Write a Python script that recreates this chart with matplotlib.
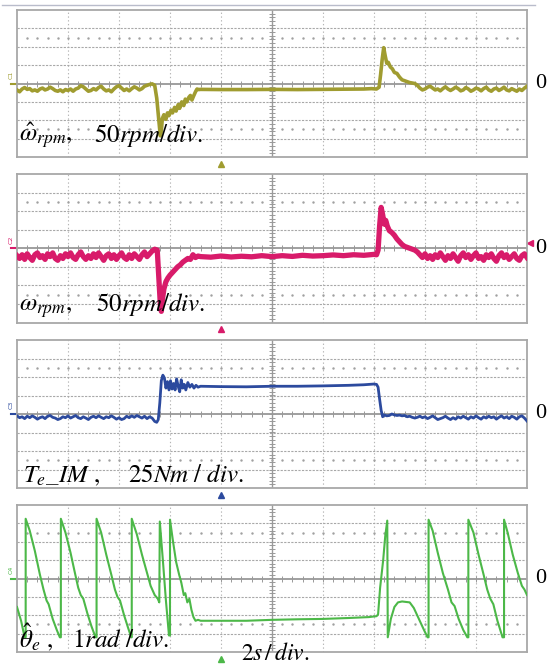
import numpy as np
import matplotlib
matplotlib.use("Agg")
import matplotlib.pyplot as plt
from matplotlib.lines import Line2D

plt.rcParams['mathtext.fontset'] = 'stix'

# ---------------- data (time in divisions, amplitude in divisions) ----------------
STEP = 0.05

# Panel 1: estimated speed (olive)
w_hat_pre = [-0.35, -0.45, -0.30, -0.22, -0.32, -0.28, -0.40, -0.35, -0.42, -0.30,
             -0.25, -0.35, -0.30, -0.20, -0.28, -0.38, -0.42, -0.35, -0.45, -0.33,
             -0.38, -0.30, -0.42, -0.30, -0.25, -0.12, -0.18, -0.30, -0.42, -0.38,
             -0.28, -0.35, -0.22, -0.15, -0.30, -0.40, -0.35, -0.45, -0.30, -0.18,
             -0.12, -0.25, -0.38, -0.30, -0.40, -0.28, -0.18, -0.25, -0.35, -0.28,
             -0.15, -0.10, -0.05, -0.02, -0.10]
w_hat_ev_t = [2.74, 2.78, 2.81, 2.83, 2.85, 2.88, 2.92, 2.95, 2.98, 3.02, 3.05, 3.09,
              3.12, 3.16, 3.19, 3.23, 3.27, 3.30, 3.33, 3.37, 3.40, 3.43, 3.46, 3.50,
              3.53, 3.56, 3.6, 4.0, 4.5, 5.0, 5.5, 6.0, 6.5, 6.8, 6.95, 7.05, 7.10,
              7.13, 7.16, 7.19, 7.22, 7.25, 7.28, 7.32, 7.36, 7.40, 7.45, 7.50, 7.55,
              7.60, 7.70, 7.80, 7.85, 7.90, 7.95]
w_hat_ev_y = [-0.8, -2.0, -2.85, -2.6, -1.9, -1.7, -1.95, -1.6, -1.75, -1.45, -1.6, -1.3,
              -1.5, -1.15, -1.35, -1.0, -1.2, -0.85, -1.0, -0.75, -0.65, -0.9, -0.7, -0.45,
              -0.30, -0.33, -0.32, -0.33, -0.33, -0.32, -0.33, -0.32, -0.31, -0.30, -0.28,
              -0.30, -0.20, 0.5, 1.3, 1.95, 1.5, 1.1, 1.15, 0.9, 0.8, 0.6, 0.55, 0.35,
              0.2, 0.15, 0.05, 0.0, -0.1, -0.25, -0.35]
w_hat_post = [-0.30, -0.20, -0.15, -0.25, -0.35, -0.30, -0.40, -0.28, -0.18, -0.30,
              -0.38, -0.30, -0.20, -0.28, -0.40, -0.35, -0.22, -0.30, -0.42, -0.35,
              -0.25, -0.30, -0.40, -0.28, -0.20, -0.35, -0.42, -0.30, -0.25, -0.38,
              -0.30, -0.20, -0.35, -0.40, -0.28, -0.35, -0.42, -0.30, -0.38, -0.25,
              -0.15]

# Panel 2: measured speed (crimson)
w_pre = [-0.40, -0.55, -0.35, -0.60, -0.30, -0.50, -0.65, -0.35, -0.25, -0.50,
         -0.40, -0.60, -0.30, -0.45, -0.25, -0.55, -0.65, -0.40, -0.55, -0.30,
         -0.45, -0.25, -0.50, -0.60, -0.35, -0.20, -0.45, -0.60, -0.40, -0.55,
         -0.30, -0.50, -0.25, -0.45, -0.65, -0.40, -0.30, -0.55, -0.35, -0.60,
         -0.40, -0.25, -0.50, -0.60, -0.35, -0.55, -0.30, -0.45, -0.60, -0.35,
         -0.20, -0.45, -0.30, -0.15, -0.05, -0.10]
w_ev_t = [2.78, 2.81, 2.83, 2.85, 2.88, 2.92, 2.96, 3.00, 3.05, 3.10, 3.15, 3.20, 3.25,
          3.30, 3.35, 3.40, 3.45, 3.50, 3.55, 3.60, 3.8, 4.0, 4.2, 4.4, 4.6, 4.8, 5.0,
          5.2, 5.4, 5.6, 5.8, 6.0, 6.2, 6.4, 6.6, 6.8, 7.0, 7.05, 7.08, 7.11, 7.14,
          7.17, 7.20, 7.23, 7.26, 7.30, 7.35, 7.40, 7.45, 7.50, 7.55, 7.60, 7.70,
          7.80, 7.85, 7.90]
w_ev_y = [-1.5, -3.0, -3.4, -2.8, -2.2, -1.8, -1.6, -1.45, -1.3, -1.15, -1.0, -0.9,
          -0.75, -0.65, -0.55, -0.6, -0.35, -0.50, -0.42, -0.45, -0.48, -0.42, -0.47,
          -0.43, -0.46, -0.40, -0.45, -0.40, -0.44, -0.38, -0.42, -0.40, -0.36, -0.40,
          -0.35, -0.38, -0.33, -0.35, -0.1, 1.2, 2.2, 1.8, 1.3, 1.5, 1.2, 0.95, 0.85,
          0.7, 0.5, 0.35, 0.2, 0.1, 0.0, -0.1, -0.2, -0.35]
w_post = [-0.50, -0.30, -0.55, -0.40, -0.60, -0.35, -0.50, -0.25, -0.45, -0.65,
          -0.40, -0.55, -0.30, -0.50, -0.70, -0.40, -0.25, -0.50, -0.35, -0.60,
          -0.40, -0.25, -0.55, -0.45, -0.65, -0.35, -0.50, -0.30, -0.55, -0.70,
          -0.40, -0.25, -0.50, -0.35, -0.60, -0.45, -0.30, -0.55, -0.65, -0.40,
          -0.30, -0.50]

# Panel 3: electromagnetic torque (blue)
te_pre = [-0.10, -0.20, -0.15, -0.25, -0.12, -0.20, -0.10, -0.18, -0.28, -0.20,
          -0.15, -0.25, -0.12, -0.08, -0.18, -0.22, -0.30, -0.25, -0.15, -0.20,
          -0.10, -0.22, -0.15, -0.08, -0.20, -0.25, -0.15, -0.22, -0.30, -0.18,
          -0.12, -0.20, -0.10, -0.18, -0.25, -0.15, -0.20, -0.10, -0.18, -0.28,
          -0.20, -0.30, -0.25, -0.12, -0.20, -0.10, -0.18, -0.08, -0.15, -0.22,
          -0.12, -0.25, -0.15, -0.22, -0.40]
te_ev_t = [2.74, 2.77, 2.80, 2.83, 2.86, 2.89, 2.92, 2.95, 2.98, 3.01, 3.04, 3.07,
           3.10, 3.13, 3.16, 3.19, 3.22, 3.25, 3.28, 3.31, 3.35, 3.39, 3.43, 3.47,
           3.51, 3.55, 3.60, 4.0, 4.5, 5.0, 5.5, 6.0, 6.5, 6.8, 7.0, 7.05, 7.08,
           7.11, 7.14, 7.17, 7.20, 7.25, 7.30, 7.35, 7.40, 7.45, 7.50, 7.55, 7.60,
           7.65, 7.70, 7.75, 7.80, 7.85, 7.90, 7.95]
te_ev_y = [-0.45, -0.30, 0.60, 1.80, 2.10, 1.95, 1.40, 1.75, 1.30, 1.80, 1.35, 1.65,
           1.30, 1.90, 1.50, 1.20, 1.85, 1.40, 1.60, 1.30, 1.70, 1.45, 1.60, 1.40,
           1.55, 1.45, 1.50, 1.48, 1.47, 1.50, 1.50, 1.52, 1.55, 1.58, 1.62, 1.60,
           1.45, 0.80, 0.20, -0.15, -0.05, -0.10, -0.08, 0.00, -0.05, -0.08, -0.06,
           -0.10, -0.08, -0.15, -0.12, -0.18, -0.22, -0.18, -0.12, -0.20]
te_post = [-0.15, -0.25, -0.18, -0.10, -0.20, -0.30, -0.25, -0.20, -0.12, -0.22,
           -0.30, -0.20, -0.28, -0.15, -0.22, -0.12, -0.20, -0.28, -0.15, -0.22,
           -0.10, -0.20, -0.28, -0.15, -0.22, -0.12, -0.20, -0.15, -0.28, -0.18,
           -0.10, -0.22, -0.15, -0.25, -0.12, -0.18, -0.28, -0.15, -0.10, -0.22,
           -0.38]

# Panel 4: estimated electrical angle (green)
th_t = [0.00, 0.08, 0.15, 0.17, 0.17, 0.25, 0.35, 0.45, 0.52, 0.58, 0.62, 0.70, 0.78,
        0.84, 0.86, 0.86, 0.95, 1.05, 1.12, 1.20, 1.25, 1.30, 1.38, 1.46, 1.54, 1.56,
        1.56, 1.65, 1.75, 1.85, 1.92, 1.97, 2.02, 2.10, 2.18, 2.24, 2.25, 2.25, 2.35,
        2.45, 2.55, 2.62, 2.70, 2.76, 2.79, 2.80, 2.86, 2.92, 2.98, 3.00, 3.00, 3.06,
        3.12, 3.18, 3.22, 3.27, 3.30, 3.34, 3.38, 3.42, 3.46, 3.50, 3.55, 3.6, 4.0,
        4.5, 5.0, 5.5, 6.0, 6.5, 6.9, 7.05, 7.08, 7.12, 7.18, 7.22, 7.26, 7.27, 7.33,
        7.40, 7.47, 7.55, 7.70, 7.78, 7.88, 7.98, 8.05, 8.07, 8.07, 8.15, 8.25, 8.35,
        8.45, 8.52, 8.58, 8.66, 8.75, 8.83, 8.85, 8.85, 8.95, 9.05, 9.15, 9.22, 9.28,
        9.34, 9.42, 9.52, 9.55, 9.55, 9.62, 9.72, 9.82, 9.90, 9.95, 10.0]
th_y = [-1.55, -2.3, -3.2, -3.2, 3.25, 2.6, 1.5, 0.2, -0.6, -1.2, -1.4, -2.2, -2.8,
        -3.2, -3.2, 3.25, 2.5, 1.4, 0.5, -0.5, -0.9, -1.1, -1.9, -2.6, -3.2, -3.2,
        3.25, 2.5, 1.3, 0.2, -0.6, -1.0, -1.2, -2.0, -2.7, -3.2, -3.2, 3.25, 2.4,
        1.3, 0.3, -0.4, -0.9, -1.1, -1.3, 3.1, 1.0, -1.2, -3.1, -3.1, 3.2, 2.0,
        0.9, 0.2, -0.2, -0.9, -0.8, -1.3, -1.1, -1.7, -2.1, -2.3, -2.25, -2.3, -2.3,
        -2.3, -2.25, -2.22, -2.2, -2.15, -2.1, -2.05, -1.95, -0.5, 1.0, 2.3, 3.15,
        -3.2, -2.2, -1.55, -1.3, -1.25, -1.3, -1.6, -2.2, -2.8, -3.2, -3.2, 3.2,
        2.6, 1.4, 0.3, -0.6, -1.3, -1.5, -2.2, -2.8, -3.2, -3.2, 3.2, 2.5, 1.3, 0.2,
        -0.6, -1.1, -1.4, -2.3, -3.2, -3.2, 3.2, 2.5, 1.3, 0.3, -0.4, -0.6, -0.9]

colors = ['#a09c30', '#d81b6a', '#2c4a9e', '#4cb848']
labels_name = [r'$\hat{\omega}_{rpm},$', r'$\omega_{rpm},$', r'$T_e\_IM\ ,$', r'$\hat{\theta}_e\ ,$']
labels_scale = [r'$50rpm/div.$', r'$50rpm/div.$', r'$25Nm\ /\ div.$', r'$1rad\ /div.$']
channel_tags = ['C1', 'C2', 'C3', 'C4']
time_label = r'$2s\,/\,div.$'


def build(pre, ev_t, ev_y, post, post_t0):
    t = np.concatenate([STEP * np.arange(len(pre)), ev_t,
                        post_t0 + STEP * np.arange(len(post))])
    y = np.concatenate([pre, ev_y, post])
    return t, y


traces = [build(w_hat_pre, w_hat_ev_t, w_hat_ev_y, w_hat_post, 8.0),
          build(w_pre, w_ev_t, w_ev_y, w_post, 7.95),
          build(te_pre, te_ev_t, te_ev_y, te_post, 8.0),
          (np.array(th_t), np.array(th_y))]
widths = [2.6, 3.8, 2.0, 1.5]

W, H = 548, 666
fig = plt.figure(figsize=(W / 100, H / 100), dpi=100)
fig.patch.set_facecolor('white')

panels = [(10, 157), (174, 322.5), (340, 488), (505, 652)]
left, right = 17, 527
label_y = [142, 311, 482, 647]
name_x = [19, 19, 23, 19]
scale_x = [94, 96, 128, 72]

# thin rule at the very top
fig.add_artist(Line2D([2 / W, 535 / W], [1 - 5 / H, 1 - 5 / H], color='#b9bccb', lw=1.0))

for i, (top, bot) in enumerate(panels):
    ax = fig.add_axes([left / W, 1 - bot / H, (right - left) / W, (bot - top) / H])
    ax.set_xlim(0, 10)
    ax.set_ylim(-4, 4)
    ax.set_xticks([])
    ax.set_yticks([])
    for s in ax.spines.values():
        s.set_color('#a8a8a8')
        s.set_linewidth(1.3)
    # grid
    for k in range(1, 10):
        if k == 5:
            ax.axvline(k, color='#9a9a9a', lw=1.0, zorder=1)
        else:
            ax.axvline(k, color='#b5b5b5', lw=0.8, ls=(0, (1.2, 2.2)), zorder=1)
    for k in range(-3, 4):
        if k == 0:
            ax.axhline(0, color='#8f8f8f', lw=1.2, zorder=1)
        else:
            ax.axhline(k, color='#a8a8a8', lw=0.8, ls=(0, (2.0, 1.2)), zorder=1)
    ticks = np.arange(0.2, 10, 0.2)
    ax.plot(ticks, np.zeros_like(ticks), ls='none', marker='|', ms=4, mew=0.7,
            color='#999999', zorder=1)
    for yy in (2.5, -2.5):
        ax.plot(ticks, np.full_like(ticks, yy), ls='none', marker='.', ms=1.5,
                color='#a0a0a0', zorder=1)
    vt = np.arange(-3.8, 4, 0.2)
    ax.plot(np.full_like(vt, 5.0), vt, ls='none', marker='_', ms=4, mew=0.7,
            color='#999999', zorder=1)

    t, y = traces[i]
    ax.plot(t, y, color=colors[i], lw=widths[i], solid_joinstyle='round', zorder=3,
            clip_on=True)

    # labels
    ly = (bot - label_y[i]) / (bot - top)
    ax.text((name_x[i] - left) / (right - left), ly, labels_name[i], transform=ax.transAxes,
            fontsize=18, va='baseline', ha='left', zorder=5)
    ax.text((scale_x[i] - left) / (right - left), ly, labels_scale[i], transform=ax.transAxes,
            fontsize=18, va='baseline', ha='left', zorder=5)
    # zero label
    ax.text(1.016, 0.0, '0', transform=ax.get_yaxis_transform(), fontsize=16,
            family='Liberation Serif', va='center', ha='left', clip_on=False)
    # channel tag + ground marker
    ax.text(-0.012, 0.25, channel_tags[i], transform=ax.get_yaxis_transform(), fontsize=4.5,
            color=colors[i], rotation=90, ha='center', va='bottom', clip_on=False)
    ax.plot([-0.012, 0.0], [0, 0], transform=ax.get_yaxis_transform(), color=colors[i],
            lw=1.5, clip_on=False)
    # trigger marker
    ax.plot([4.0], [-0.045], transform=ax.get_xaxis_transform(), marker='^', ms=5,
            color=colors[i], ls='none', clip_on=False)
    if i == 1:
        ax.plot([1.005], [0.3], transform=ax.get_yaxis_transform(), marker='<', ms=4,
                color=colors[i], ls='none', clip_on=False)
    if i == 3:
        ax.text((241 - left) / (right - left), (bot - 660) / (bot - top), time_label,
                transform=ax.transAxes, fontsize=17, va='baseline', ha='left')

fig.savefig('out.png', dpi=100, facecolor='white')
